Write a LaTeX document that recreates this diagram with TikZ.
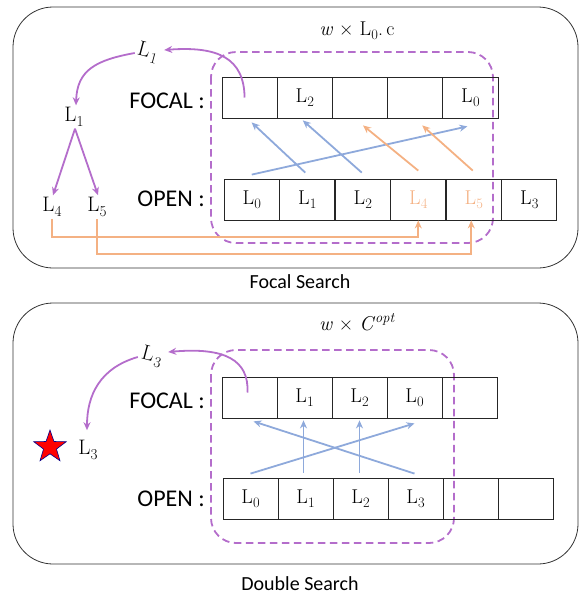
\documentclass[tikz,border=0pt]{standalone}
\usepackage[no-math]{fontspec}
\newfontfamily\calibri{Carlito}
\usetikzlibrary{shapes.geometric,arrows.meta,calc}
\definecolor{pur}{HTML}{B46DCB}
\definecolor{blu}{HTML}{8EA9DB}
\definecolor{ora}{HTML}{F4B183}
\newcommand\Lx[1]{L\kern0.3pt\raisebox{-0.22em}{\scalebox{0.72}{#1}}}
\newcommand\Lr[1]{L\kern1.8pt\raisebox{-0.22em}{\scalebox{0.72}{#1}}}
\newcommand\sups[1]{\raisebox{0.42em}{\scalebox{0.72}{#1}}}
\begin{document}
\begin{tikzpicture}[x=1pt,y=-1pt,
  panel/.style={draw=black!80, line width=0.8pt, rounded corners=40pt},
  win/.style={draw=pur, line width=1.8pt, dash pattern=on 7.5pt off 4.5pt, rounded corners=25pt},
  cell/.style={draw=black!85, line width=0.8pt, minimum width=55.2pt, minimum height=41pt, inner sep=0pt, font=\fontsize{20}{22}\selectfont},
  lab/.style={font=\calibri\fontsize{24}{28}\selectfont, anchor=east, inner sep=0pt},
  captext/.style={font=\calibri\fontsize{20}{24}\selectfont, inner sep=1pt},
  lt/.style={font=\fontsize{21}{24}\selectfont, inner sep=1pt},
  ttl/.style={font=\fontsize{20}{24}\selectfont, inner sep=1pt},
  parr/.style={draw=pur, line width=1.8pt, -{Stealth[length=8pt,width=7pt]}},
  barr/.style={draw=blu, line width=1.8pt, -{Stealth[length=8pt,width=7pt]}},
  oarr/.style={draw=ora, line width=1.8pt, -{Stealth[length=8pt,width=7pt]}}
]
\useasboundingbox (0,0) rectangle (584,595);

% ===== Top panel: Focal Search =====
\draw[panel] (13,7) rectangle (578,268);
\node[captext] (capt) at (300,282) {Focal Search};
\draw[win] (211,52) rectangle (493,243);
\node[ttl] (t1) at (357,31) {\textit{w} × \Lx{0}.\,c};

\node[lab] (tfl) at (205,101) {FOCAL :};
\node[lab] (tol) at (205,199) {OPEN :};

\node[cell] (tf1) at (249.6,97.5) {};
\node[cell] (tf2) at (304.8,97.5) {\Lx{2}};
\node[cell] (tf3) at (360.0,97.5) {};
\node[cell] (tf4) at (415.2,97.5) {};
\node[cell] (tf5) at (470.4,97.5) {\Lx{0}};

\node[cell] (to1) at (251.75,199.5) {\Lx{0}};
\node[cell] (to2) at (307.25,199.5) {\Lx{1}};
\node[cell] (to3) at (362.75,199.5) {\Lx{2}};
\node[cell, text=ora] (to4) at (418.25,199.5) {\Lx{4}};
\node[cell, text=ora] (to5) at (473.75,199.5) {\Lx{5}};
\node[cell] (to6) at (529.25,199.5) {\Lx{3}};

\node[lt, rotate=-15] (ta) at (148,52) {\Lr{1}};
\node[lt] (tb) at (74,117) {\Lx{1}};
\node[lt] (tc) at (52,207) {\Lx{4}};
\node[lt] (td) at (97,207) {\Lx{5}};

\draw[parr] ($(tf1.center)+(-5,0)$) .. controls (244,58) and (218,46) .. ($(ta.east)+(5,-5)$);
\draw[parr] ($(ta.west)+(-2,4)$) .. controls (96,60) and (77,70) .. ($(tb.north)+(2,-1)$);
\draw[parr] ($(tb.south)+(1,1)$) -- ($(tc.north)+(1,-1)$);
\draw[parr] ($(tb.south)+(1,1)$) -- ($(td.north)+(1,-1)$);

\draw[barr] ($(to1.north)+(0,-4)$) -- ($(tf5.south)+(-3,8)$);
\draw[barr] ($(to2.north)+(-2,-6)$) -- ($(tf1.south)+(2,4)$);
\draw[barr] ($(to3.north)+(-1,-6)$) -- ($(tf2.south)+(-2,2)$);
\draw[oarr] ($(to4.north)+(0,-8)$) -- ($(tf3.south)+(3,7)$);
\draw[oarr] ($(to5.north)+(-1,-8)$) -- ($(tf4.south)+(7,7)$);

\draw[oarr] ($(tc.south)+(0,1)$) |- (52,237) -| (to4.south);
\draw[oarr] ($(td.south)+(0,1)$) |- (97,254) -| ($(to5.south)+(-2.5,0)$);

% ===== Bottom panel: Double Search =====
\draw[panel] (13,303) rectangle (578,564);
\node[captext] (capb) at (300,584) {Double Search};
\draw[win] (211,350) rectangle (454,543);
\node[ttl] (t2) at (357,322) {\textit{w} × \textit{C}\sups{\textit{opt}}};

\node[lab] (bfl) at (205,401) {FOCAL :};
\node[lab] (bol) at (205,499) {OPEN :};

\node[cell] (bf1) at (249.5,397.5) {};
\node[cell] (bf2) at (304.5,397.5) {\Lx{1}};
\node[cell] (bf3) at (359.5,397.5) {\Lx{2}};
\node[cell] (bf4) at (414.5,397.5) {\Lx{0}};
\node[cell] (bf5) at (469.5,397.5) {};

\node[cell] (bo1) at (250.5,498.5) {\Lx{0}};
\node[cell] (bo2) at (305.5,498.5) {\Lx{1}};
\node[cell] (bo3) at (360.5,498.5) {\Lx{2}};
\node[cell] (bo4) at (415.5,498.5) {\Lx{3}};
\node[cell] (bo5) at (470.5,498.5) {};
\node[cell] (bo6) at (525.5,498.5) {};

\node[lt, rotate=-15] (ba) at (152,357) {\Lr{3}};
\node[star, star points=5, star point ratio=2.5, fill=red, draw=blue!55!black, line width=0.6pt, minimum size=34pt, inner sep=0pt] (st) at (50,447) {};
\node[lt] (bb) at (88,450) {\Lx{3}};

\draw[parr] ($(bf1.center)+(-2,-5)$) .. controls (249,360) and (225,347) .. ($(ba.east)+(5,-8)$);
\draw[parr] ($(ba.west)+(-3,3)$) .. controls (100,368) and (87,395) .. ($(bb.north)+(-1,-9)$);

\draw[barr] ($(bo1.north)+(0,-4)$) -- ($(bf4.south)+(0,5)$);
\draw[barr] ($(bo2.north)+(-2,-5)$) -- ($(bf2.south)+(-1,2)$);
\draw[barr] ($(bo3.north)+(-1,-5)$) -- ($(bf3.south)+(0,2)$);
\draw[barr] ($(bo4.north)+(-1,-4)$) -- ($(bf1.south)+(4,3)$);
\end{tikzpicture}
\end{document}
